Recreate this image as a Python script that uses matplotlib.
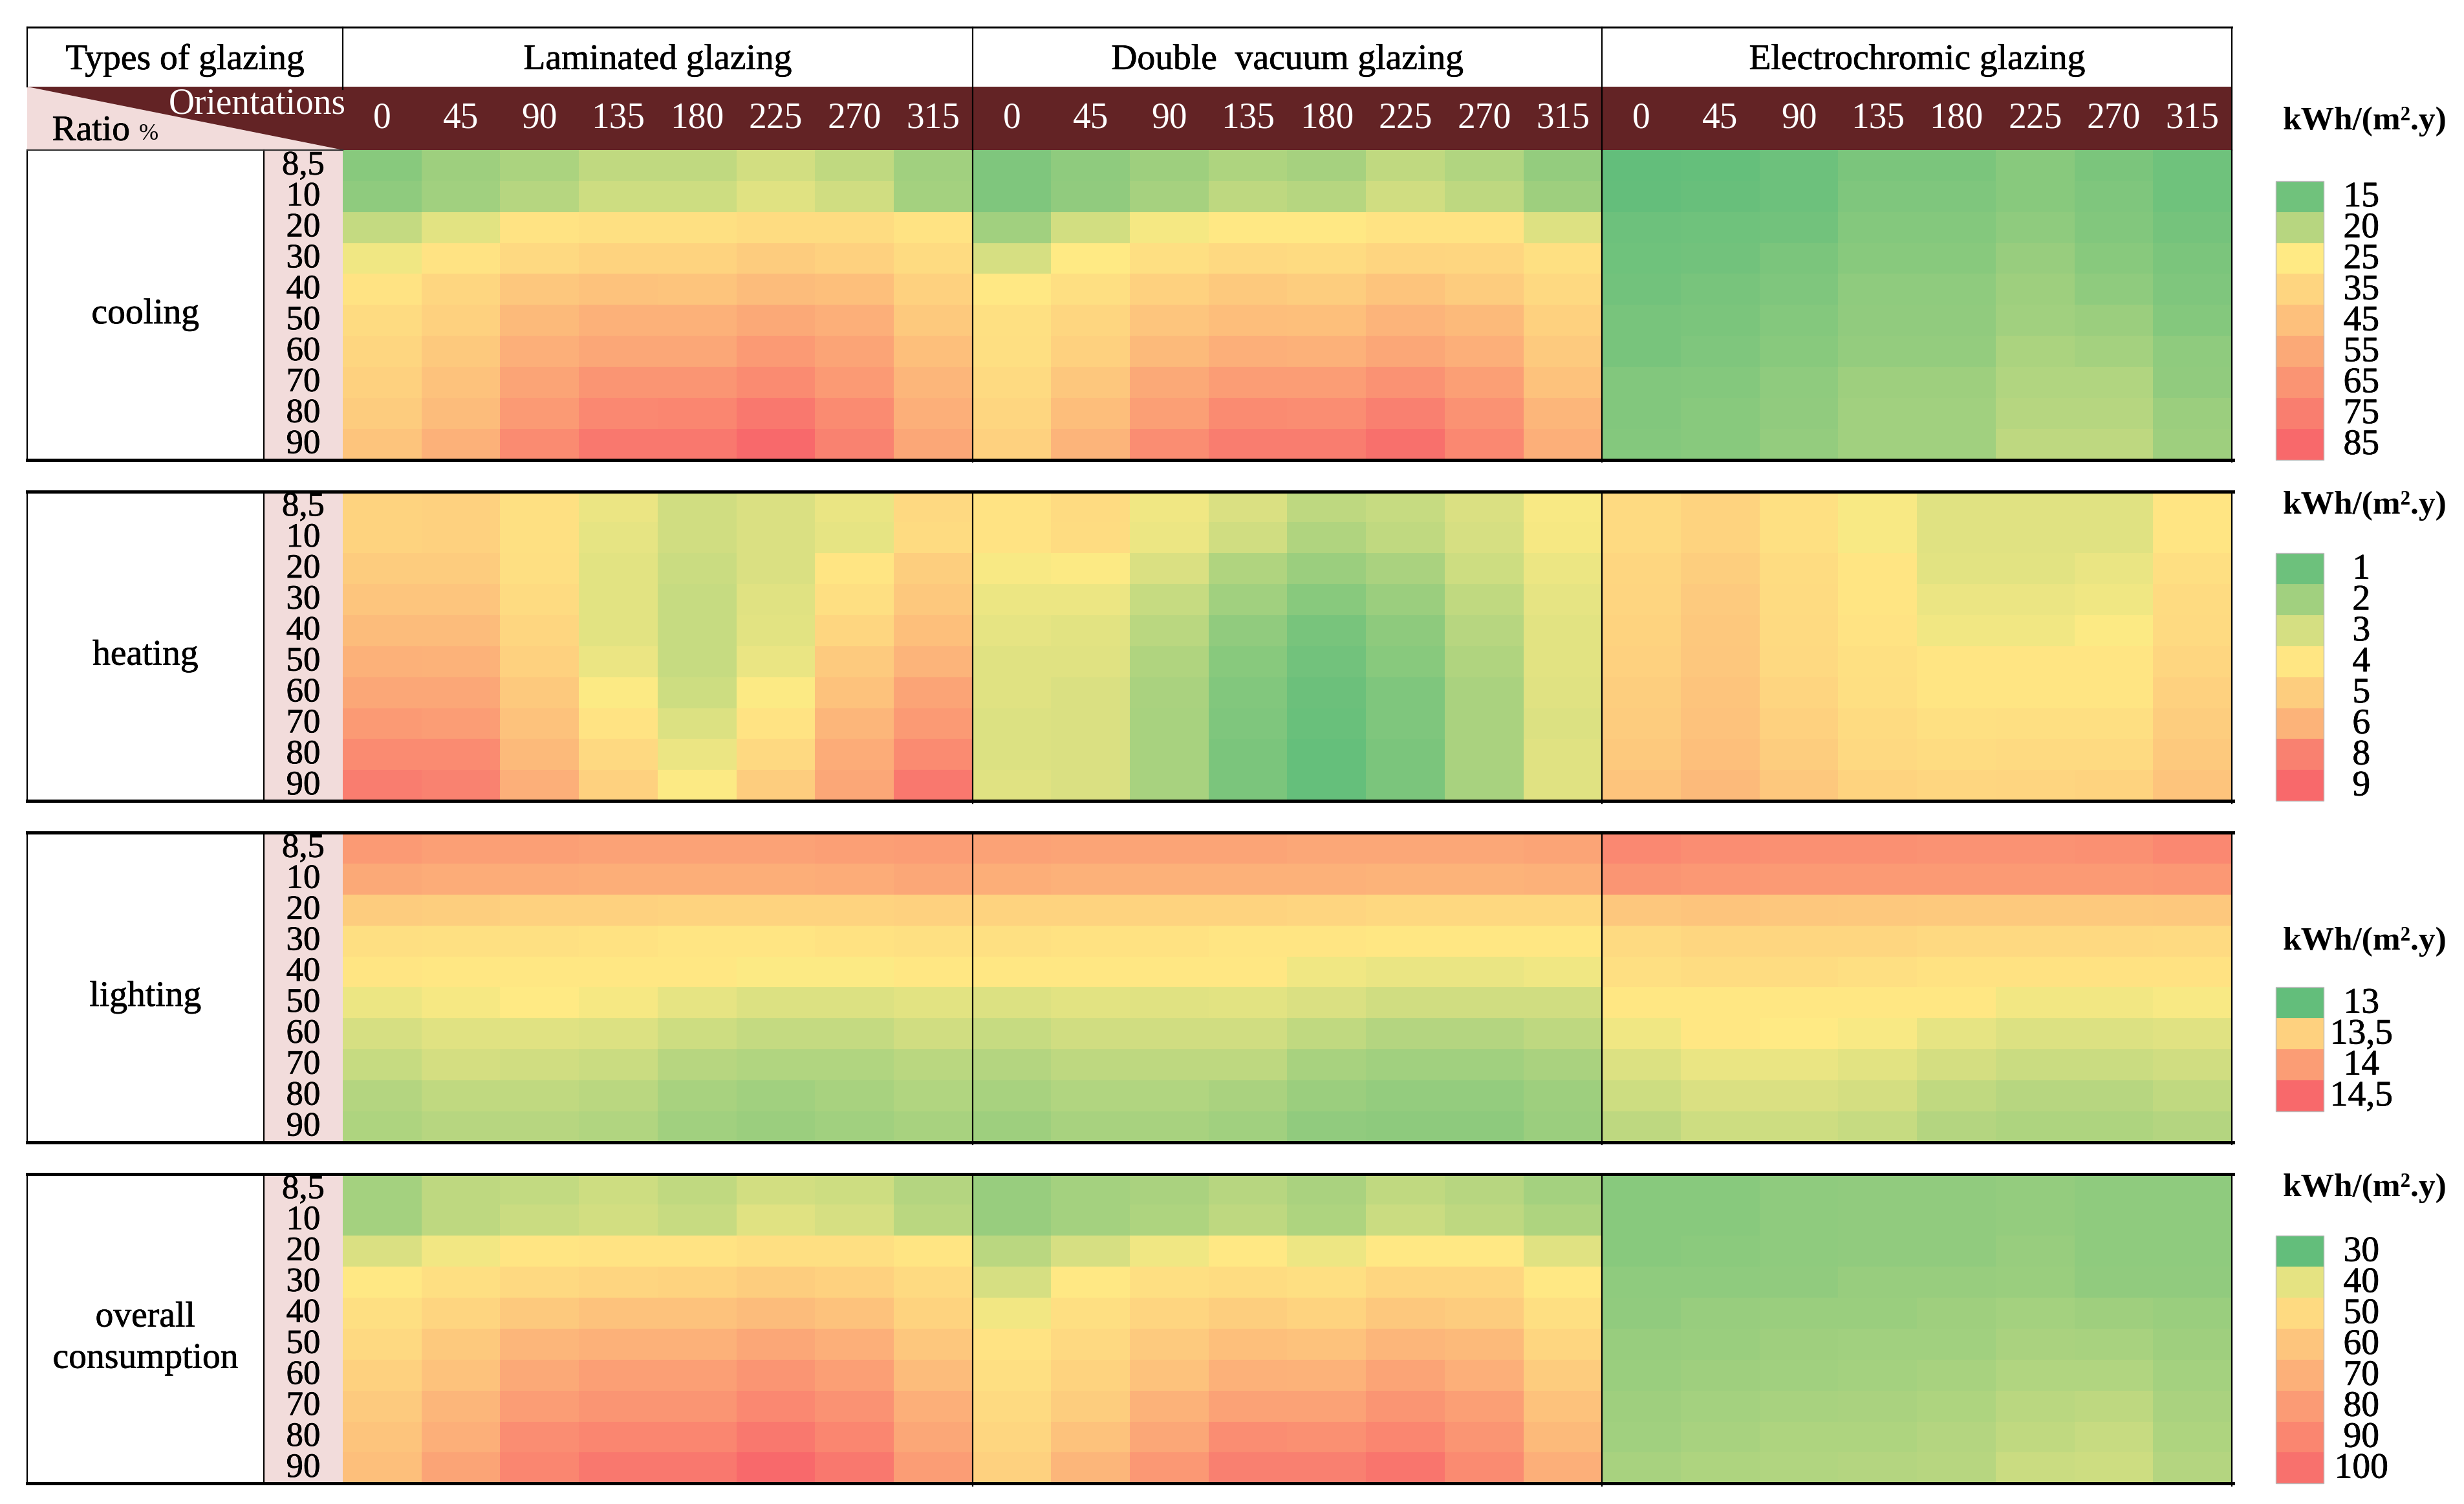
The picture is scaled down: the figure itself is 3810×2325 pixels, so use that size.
import numpy as np
import matplotlib
matplotlib.use("Agg")
import matplotlib.pyplot as plt
import matplotlib.patheffects as pe
from matplotlib.colors import LinearSegmentedColormap, TwoSlopeNorm
from matplotlib.patches import Rectangle, Polygon

# ---------------- data ----------------
glazing_types = ["Laminated glazing", "Double  vacuum glazing", "Electrochromic glazing"]
orientations = ["0", "45", "90", "135", "180", "225", "270", "315"]
ratios = ["8,5", "10", "20", "30", "40", "50", "60", "70", "80", "90"]
categories = ["cooling", "heating", "lighting", "overall\nconsumption"]

cooling_laminated = [
    [16.6, 18.2, 19.1, 20.6, 20.6, 21.9, 20.6, 18.4],
    [17.1, 18.4, 19.9, 21.5, 21.5, 22.8, 21.7, 18.6],
    [20.8, 23.0, 28.6, 29.8, 29.8, 31.6, 31.6, 28.6],
    [23.9, 28.6, 33.4, 35.8, 35.8, 39.4, 37.0, 32.2],
    [28.6, 34.6, 41.8, 44.2, 43.0, 46.6, 45.4, 37.0],
    [32.2, 37.0, 47.8, 51.4, 51.4, 55.0, 52.6, 40.6],
    [34.6, 40.6, 52.6, 56.2, 56.2, 62.2, 57.4, 45.4],
    [37.0, 44.2, 57.4, 64.6, 64.6, 69.4, 62.2, 49.0],
    [39.4, 46.6, 62.2, 70.6, 71.8, 77.8, 69.4, 52.6],
    [43.0, 51.4, 69.4, 77.8, 77.8, 85.0, 73.0, 56.2],
]
cooling_vacuum = [
    [16.0, 17.1, 18.2, 19.3, 18.8, 20.6, 19.5, 17.5],
    [16.0, 17.3, 18.8, 20.4, 19.9, 21.7, 20.4, 18.2],
    [18.4, 21.9, 24.3, 26.2, 26.2, 28.6, 28.6, 22.6],
    [22.1, 25.0, 30.4, 33.4, 32.2, 35.2, 34.6, 29.8],
    [26.2, 30.4, 37.0, 40.6, 38.8, 43.0, 39.4, 33.4],
    [29.8, 34.6, 42.4, 46.0, 45.4, 50.2, 47.8, 37.0],
    [30.4, 37.0, 47.8, 52.6, 51.4, 56.2, 52.6, 40.0],
    [32.8, 41.8, 55.0, 61.0, 61.0, 65.8, 59.8, 44.2],
    [34.6, 46.0, 59.8, 69.4, 68.2, 74.2, 65.8, 49.0],
    [37.0, 50.2, 68.2, 75.4, 75.4, 81.4, 70.6, 52.6],
]
cooling_electro = [
    [14.0, 14.2, 14.7, 15.8, 15.8, 16.6, 15.8, 14.9],
    [14.1, 14.4, 14.7, 16.0, 16.0, 16.6, 16.0, 14.9],
    [14.7, 14.9, 15.1, 16.4, 16.4, 17.1, 16.2, 15.3],
    [14.9, 15.1, 15.8, 16.6, 16.6, 17.7, 16.6, 15.8],
    [15.1, 15.5, 16.0, 17.1, 17.1, 18.2, 17.1, 16.0],
    [15.5, 15.8, 16.4, 17.3, 17.3, 18.4, 18.0, 16.4],
    [15.5, 16.0, 16.6, 17.5, 17.5, 19.1, 18.6, 17.1],
    [16.2, 16.4, 17.1, 18.2, 18.2, 19.5, 19.5, 17.3],
    [16.2, 16.6, 17.3, 18.4, 18.4, 19.9, 19.9, 18.0],
    [16.4, 16.6, 17.5, 18.4, 18.4, 20.4, 20.4, 18.2],
]

heating_laminated = [
    [4.74, 4.84, 4.22, 3.41, 2.90, 3.08, 3.38, 4.53],
    [4.74, 4.84, 4.22, 3.32, 2.90, 3.08, 3.32, 4.42],
    [5.05, 5.05, 4.27, 3.26, 2.78, 3.08, 4.01, 4.94],
    [5.31, 5.31, 4.42, 3.26, 2.72, 3.20, 4.27, 5.20],
    [5.67, 5.67, 4.63, 3.26, 2.72, 3.26, 4.63, 5.57],
    [6.09, 6.04, 4.84, 3.41, 2.72, 3.38, 5.10, 5.98],
    [6.50, 6.50, 5.15, 3.74, 2.84, 3.74, 5.46, 6.61],
    [7.02, 6.92, 5.46, 4.11, 3.14, 4.11, 5.88, 7.02],
    [7.65, 7.65, 5.78, 4.53, 3.41, 4.53, 6.30, 7.65],
    [8.17, 7.96, 6.19, 4.84, 3.74, 5.00, 6.50, 8.38],
]
heating_vacuum = [
    [4.11, 4.42, 3.50, 3.08, 2.54, 2.72, 3.08, 3.68],
    [4.11, 4.37, 3.44, 2.90, 2.30, 2.60, 3.02, 3.62],
    [3.68, 3.74, 3.08, 2.30, 1.88, 2.18, 2.84, 3.44],
    [3.44, 3.44, 2.72, 2.00, 1.52, 1.88, 2.60, 3.32],
    [3.32, 3.26, 2.48, 1.70, 1.22, 1.64, 2.42, 3.26],
    [3.20, 3.20, 2.30, 1.52, 1.10, 1.52, 2.30, 3.26],
    [3.20, 3.08, 2.18, 1.40, 0.98, 1.34, 2.18, 3.20],
    [3.14, 3.08, 2.12, 1.34, 0.92, 1.34, 2.18, 3.14],
    [3.14, 3.08, 2.12, 1.28, 0.86, 1.28, 2.18, 3.20],
    [3.20, 3.08, 2.12, 1.28, 0.86, 1.28, 2.12, 3.20],
]
heating_electro = [
    [4.48, 4.74, 4.22, 3.68, 3.20, 3.20, 3.20, 4.01],
    [4.48, 4.74, 4.22, 3.68, 3.20, 3.20, 3.20, 4.01],
    [4.63, 4.94, 4.37, 4.01, 3.26, 3.26, 3.38, 4.27],
    [4.68, 5.10, 4.42, 4.01, 3.41, 3.41, 3.50, 4.42],
    [4.74, 5.20, 4.48, 4.11, 3.53, 3.53, 3.74, 4.48],
    [4.84, 5.26, 4.53, 4.22, 4.01, 4.01, 4.01, 4.63],
    [4.94, 5.36, 4.68, 4.27, 4.01, 4.01, 4.01, 4.84],
    [5.05, 5.46, 4.84, 4.42, 4.22, 4.27, 4.27, 5.00],
    [5.15, 5.57, 5.00, 4.53, 4.37, 4.48, 4.48, 5.15],
    [5.36, 5.78, 5.20, 4.74, 4.63, 4.68, 4.74, 5.36],
]

lighting_laminated = [
    [14.03, 13.98, 13.98, 13.95, 13.95, 13.95, 13.98, 14.00],
    [13.88, 13.85, 13.85, 13.83, 13.83, 13.83, 13.85, 13.90],
    [13.55, 13.53, 13.50, 13.50, 13.48, 13.48, 13.48, 13.50],
    [13.36, 13.35, 13.35, 13.33, 13.30, 13.30, 13.33, 13.35],
    [13.30, 13.28, 13.28, 13.28, 13.28, 13.245, 13.245, 13.28],
    [13.22, 13.235, 13.25, 13.235, 13.21, 13.195, 13.195, 13.205],
    [13.185, 13.20, 13.20, 13.195, 13.17, 13.155, 13.155, 13.175],
    [13.16, 13.18, 13.175, 13.165, 13.135, 13.125, 13.125, 13.14],
    [13.13, 13.15, 13.15, 13.14, 13.11, 13.10, 13.11, 13.125],
    [13.12, 13.135, 13.135, 13.125, 13.10, 13.09, 13.10, 13.11],
]
lighting_vacuum = [
    [13.95, 13.925, 13.925, 13.925, 13.90, 13.90, 13.90, 13.925],
    [13.83, 13.80, 13.80, 13.80, 13.80, 13.78, 13.78, 13.80],
    [13.48, 13.48, 13.48, 13.48, 13.46, 13.43, 13.43, 13.43],
    [13.35, 13.33, 13.33, 13.30, 13.30, 13.28, 13.28, 13.28],
    [13.28, 13.28, 13.28, 13.28, 13.225, 13.215, 13.215, 13.225],
    [13.195, 13.205, 13.20, 13.205, 13.19, 13.175, 13.175, 13.175],
    [13.16, 13.175, 13.175, 13.175, 13.15, 13.13, 13.13, 13.145],
    [13.13, 13.145, 13.145, 13.145, 13.11, 13.10, 13.10, 13.115],
    [13.11, 13.125, 13.125, 13.115, 13.09, 13.08, 13.08, 13.095],
    [13.095, 13.11, 13.11, 13.10, 13.075, 13.07, 13.07, 13.09],
]
lighting_electro = [
    [14.20, 14.15, 14.125, 14.125, 14.10, 14.10, 14.125, 14.20],
    [14.075, 14.05, 14.025, 14.025, 14.025, 14.025, 14.025, 14.05],
    [13.60, 13.625, 13.60, 13.59, 13.575, 13.575, 13.575, 13.59],
    [13.41, 13.45, 13.45, 13.45, 13.425, 13.425, 13.425, 13.41],
    [13.36, 13.39, 13.39, 13.36, 13.33, 13.33, 13.33, 13.33],
    [13.28, 13.28, 13.28, 13.28, 13.28, 13.23, 13.23, 13.24],
    [13.225, 13.28, 13.25, 13.24, 13.21, 13.195, 13.195, 13.20],
    [13.195, 13.215, 13.215, 13.205, 13.18, 13.165, 13.165, 13.175],
    [13.17, 13.19, 13.19, 13.18, 13.15, 13.135, 13.135, 13.15],
    [13.145, 13.17, 13.17, 13.16, 13.13, 13.12, 13.12, 13.13],
]

overall_laminated = [
    [35.0, 37.0, 37.4, 38.2, 37.2, 38.6, 38.2, 36.2],
    [35.0, 37.0, 37.9, 38.6, 37.7, 39.6, 38.9, 36.7],
    [39.1, 41.0, 44.5, 45.7, 45.7, 47.6, 47.6, 44.5],
    [43.2, 47.6, 50.7, 52.5, 53.2, 56.3, 54.4, 50.1],
    [47.6, 52.5, 58.1, 61.8, 61.8, 64.3, 61.8, 53.2],
    [50.7, 58.1, 66.8, 69.3, 69.3, 74.2, 70.5, 59.4],
    [54.4, 61.8, 73.0, 78.0, 78.0, 82.9, 78.0, 64.3],
    [57.5, 66.8, 79.2, 82.9, 82.9, 89.1, 84.2, 70.5],
    [60.6, 70.5, 86.6, 90.4, 90.4, 96.6, 90.4, 74.2],
    [63.1, 75.5, 90.4, 96.6, 96.6, 104.0, 96.6, 79.2],
]
overall_vacuum = [
    [34.1, 35.0, 35.5, 36.5, 35.5, 37.2, 36.5, 35.0],
    [34.1, 35.0, 35.8, 37.0, 35.8, 37.9, 37.0, 35.8],
    [36.7, 38.9, 40.8, 43.2, 40.6, 43.2, 43.2, 39.6],
    [38.9, 43.2, 47.6, 48.8, 47.6, 51.9, 51.9, 43.2],
    [41.0, 47.6, 52.5, 55.6, 53.2, 58.7, 56.9, 47.6],
    [45.7, 50.7, 57.5, 63.1, 61.8, 66.8, 65.6, 51.9],
    [47.6, 53.2, 61.8, 69.3, 68.7, 75.5, 70.5, 56.9],
    [50.1, 56.3, 68.7, 76.7, 76.7, 82.9, 78.0, 61.8],
    [51.9, 61.8, 74.2, 86.6, 85.4, 90.4, 82.9, 65.6],
    [54.4, 66.8, 81.7, 92.8, 92.8, 97.8, 87.9, 70.5],
]
overall_electro = [
    [32.9, 32.9, 33.4, 33.6, 33.6, 33.8, 33.4, 33.4],
    [32.9, 32.9, 33.4, 33.6, 33.6, 33.8, 33.4, 33.4],
    [32.9, 33.1, 33.4, 33.6, 33.6, 34.1, 33.4, 33.4],
    [33.4, 33.4, 33.6, 34.1, 34.1, 34.3, 33.6, 33.6],
    [33.6, 34.1, 34.3, 34.3, 34.6, 35.0, 34.6, 34.3],
    [34.1, 34.3, 34.6, 34.8, 34.8, 35.5, 35.3, 34.6],
    [34.3, 34.6, 34.8, 35.0, 35.3, 36.0, 36.0, 35.0],
    [34.6, 35.0, 35.3, 35.5, 35.8, 36.7, 37.0, 35.5],
    [34.8, 35.3, 35.8, 35.8, 36.2, 37.2, 37.7, 35.8],
    [35.3, 35.8, 36.0, 36.2, 36.5, 37.9, 38.2, 36.2],
]

legend_cooling = [15, 20, 25, 35, 45, 55, 65, 75, 85]
legend_cooling_labels = ["15", "20", "25", "35", "45", "55", "65", "75", "85"]
legend_heating = [1, 2, 3, 4, 5, 6, 8, 9]
legend_heating_labels = ["1", "2", "3", "4", "5", "6", "8", "9"]
legend_lighting = [13, 13.5, 14, 14.5]
legend_lighting_labels = ["13", "13,5", "14", "14,5"]
legend_overall = [30, 40, 50, 60, 70, 80, 90, 100]
legend_overall_labels = ["30", "40", "50", "60", "70", "80", "90", "100"]
unit_label = "kWh/(m\u00b2.y)"

panels = [
    (np.array(cooling_laminated), np.array(cooling_vacuum), np.array(cooling_electro)),
    (np.array(heating_laminated), np.array(heating_vacuum), np.array(heating_electro)),
    (np.array(lighting_laminated), np.array(lighting_vacuum), np.array(lighting_electro)),
    (np.array(overall_laminated), np.array(overall_vacuum), np.array(overall_electro)),
]
legends = [
    (legend_cooling, legend_cooling_labels),
    (legend_heating, legend_heating_labels),
    (legend_lighting, legend_lighting_labels),
    (legend_overall, legend_overall_labels),
]

# ---------------- style ----------------
cmap = LinearSegmentedColormap.from_list("excel3", ["#63BE7B", "#FFEB84", "#F8696B"])
norms = [
    TwoSlopeNorm(vmin=14.0, vcenter=25.0, vmax=85.0),
    TwoSlopeNorm(vmin=0.8, vcenter=3.8, vmax=9.0),
    TwoSlopeNorm(vmin=13.0, vcenter=13.25, vmax=14.5),
    TwoSlopeNorm(vmin=30.0, vcenter=42.0, vmax=104.0),
]
MAROON = "#632325"
PINK = "#f2dcdb"
FONT = "Liberation Serif"
HEAVY = [pe.withStroke(linewidth=0.5, foreground="black")]

X0, XCAT, XRAT, XR = 17.0, 167.0, 217.0, 1413.0
GW = (XR - XRAT) / 3.0
YTOP, YH1, YH2 = 17.0, 55.0, 95.0
panel_tops = [95.0, 311.0, 527.0, 743.0]
PH = 196.0
RH = PH / 10.0
legend_first_row = [1, 2, 5, 2]
legend_title_y = [77, 320, 596, 752]
LBX0, LBX1, LLX = 1441.0, 1471.0, 1495.0

fig = plt.figure(figsize=(38.1, 23.25), dpi=100)
ax = fig.add_axes([0, 0, 1, 1])
ax.set_xlim(0, 1560)
ax.set_ylim(952, 0)
ax.axis("off")

THICK = 3.6
THIN = 1.6

# ---------- header row 1 ----------
ax.text((X0 + XRAT) / 2, 38, "Types of glazing", ha="center", va="center",
        fontsize=40, family=FONT, path_effects=HEAVY)
for g, name in enumerate(glazing_types):
    ax.text(XRAT + GW * (g + 0.5), 38, name, ha="center", va="center",
            fontsize=40, family=FONT, path_effects=HEAVY)
ax.plot([X0, XR], [YTOP, YTOP], color="black", lw=2.2, zorder=5)
ax.plot([X0, X0], [YTOP, YH1], color="black", lw=THIN, zorder=5)
ax.plot([XRAT, XRAT], [YTOP, YH1 + 1.5], color="black", lw=THIN, zorder=5)
for g in range(1, 4):
    x = XRAT + GW * g
    ax.plot([x, x], [YTOP, YH2], color="black", lw=THIN, zorder=5)

# ---------- header row 2 ----------
ax.add_patch(Rectangle((XRAT, YH1), XR - XRAT, YH2 - YH1, facecolor=MAROON,
                       edgecolor="none", zorder=1))
ax.add_patch(Polygon([(X0, YH1), (X0, YH2), (XRAT, YH2)], closed=True,
                     facecolor=PINK, edgecolor="none", zorder=1))
ax.add_patch(Polygon([(X0, YH1), (XRAT + 0.5, YH1), (XRAT + 0.5, YH2)], closed=True,
                     facecolor=MAROON, edgecolor="none", zorder=1))
ax.text(XRAT + 2, 66, "Orientations", ha="right", va="center", color="white",
        fontsize=40, family=FONT, zorder=6)
ax.text(33, 83, "Ratio", ha="left", va="center", color="black",
        fontsize=40, family=FONT, zorder=6, path_effects=HEAVY)
ax.text(88, 85, "%", ha="left", va="center", color="black",
        fontsize=26, family=FONT, zorder=6)
for g in range(3):
    for j, o in enumerate(orientations):
        ax.text(XRAT + GW * g + GW / 8 * (j + 0.5), 75, o, ha="center", va="center",
                color="white", fontsize=40, family=FONT, zorder=6)

# ---------- panels ----------
for p, (top, groups) in enumerate(zip(panel_tops, panels)):
    bot = top + PH
    yedges = np.linspace(top, bot, 11)
    for g, arr in enumerate(groups):
        xedges = np.linspace(XRAT + GW * g, XRAT + GW * (g + 1), 9)
        ax.pcolormesh(xedges, yedges, arr, cmap=cmap, norm=norms[p],
                      shading="flat", edgecolors="none", zorder=2)
    ax.add_patch(Rectangle((XCAT, top), XRAT - XCAT, PH, facecolor=PINK,
                           edgecolor="none", zorder=1))
    for i, r in enumerate(ratios):
        ax.text((XCAT + XRAT) / 2, top + RH * (i + 0.5) + 0.3, r, ha="center",
                va="center", fontsize=38, family=FONT, zorder=6, path_effects=HEAVY)
    ax.text((X0 + XCAT) / 2, top + PH / 2 + 6, categories[p], ha="center",
            va="center", fontsize=40, family=FONT, linespacing=1.3, zorder=6,
            path_effects=HEAVY)
    ax.plot([X0, X0], [top, bot], color="black", lw=THIN, zorder=5)
    ax.plot([XCAT, XCAT], [top, bot], color="black", lw=THIN, zorder=5)
    for g in range(1, 4):
        x = XRAT + GW * g
        ax.plot([x, x], [top, bot + 1.5], color="black", lw=THIN, zorder=5)
    if p == 0:
        ax.plot([X0, XRAT], [top, top], color="#333333", lw=THIN, zorder=5)
    else:
        ax.plot([X0, XR + 0.8], [top, top], color="black", lw=THICK, zorder=5)
    ax.plot([X0, XR + 0.8], [bot, bot], color="black", lw=THICK, zorder=5)

    # legend
    vals, labels = legends[p]
    r0 = legend_first_row[p]
    for k, (v, lab) in enumerate(zip(vals, labels)):
        y0 = top + RH * (r0 + k)
        ax.add_patch(Rectangle((LBX0, y0), LBX1 - LBX0, RH,
                               facecolor=cmap(norms[p](v)), edgecolor="none", zorder=2))
        ax.text(LLX, y0 + RH / 2 + 0.5, lab, ha="center", va="center",
                fontsize=40, family=FONT, zorder=6, path_effects=HEAVY)
    ax.add_patch(Rectangle((LBX0, top + RH * r0), LBX1 - LBX0, RH * len(vals),
                           facecolor="none", edgecolor="#bbbbbb", lw=1.0, zorder=3))
    ax.text(1497, legend_title_y[p], unit_label, ha="center", va="center",
            fontsize=37, family=FONT, fontweight="bold", zorder=6)

fig.savefig("out.png", dpi=100, facecolor="white")
